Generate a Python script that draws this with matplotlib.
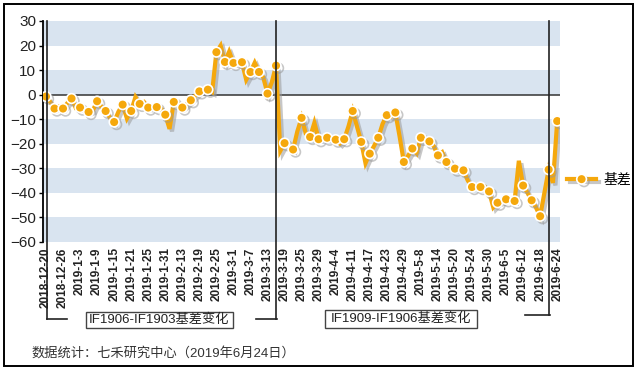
"""IF basis chart: IF1906-IF1903 then IF1909-IF1906 spread (daily)."""

from __future__ import annotations

import matplotlib

matplotlib.use("Agg")
import matplotlib.patheffects as pe
import matplotlib.pyplot as plt
from matplotlib.lines import Line2D
from matplotlib.patches import Rectangle
from matplotlib.transforms import blended_transform_factory

# --- data -------------------------------------------------------------------
TICK_DATES = [
    "2018-12-20", "2018-12-26", "2019-1-3", "2019-1-9", "2019-1-15",
    "2019-1-21", "2019-1-25", "2019-1-31", "2019-2-13", "2019-2-19",
    "2019-2-25", "2019-3-1", "2019-3-7", "2019-3-13", "2019-3-19",
    "2019-3-25", "2019-3-29", "2019-4-4", "2019-4-11", "2019-4-17",
    "2019-4-23", "2019-4-29", "2019-5-8", "2019-5-14", "2019-5-20",
    "2019-5-24", "2019-5-30", "2019-6-5", "2019-6-12", "2019-6-18",
    "2019-6-24",
]

# one value per trading day (121 days)
BASIS = [
    -0.8, -3.0, -5.7, -4.8, -5.7, -3.5, -1.6, -5.5, -5.3, -6.5,
    -7.1, -6.5, -2.7, -5.0, -6.7, -9.5, -11.2, -7.0, -4.1, -9.8,
    -6.7, -1.0, -3.8, -3.0, -5.3, -5.5, -5.1, -5.5, -8.2, -14.0,
    -3.0, -3.5, -5.3, -4.0, -2.3, -0.5, 1.3, 1.2, 2.0, 1.0,
    17.3, 20.0, 13.3, 17.5, 12.9, 12.5, 13.2, 6.0, 9.2, 13.0,
    9.2, 7.0, 0.4, 5.0, 11.8, -23.0, -19.8, -21.0, -22.4, -15.0,
    -9.5, -16.0, -17.3, -11.5, -18.2, -18.0, -17.6, -18.5, -18.4, -20.0,
    -18.2, -13.0, -6.7, -13.0, -19.3, -28.0, -24.1, -21.0, -17.6, -12.0,
    -8.4, -9.0, -7.3, -17.0, -27.5, -25.0, -22.0, -24.0, -17.6, -18.5,
    -19.1, -21.0, -24.8, -23.5, -27.5, -29.5, -30.2, -31.0, -30.9, -35.0,
    -37.7, -37.0, -37.7, -37.5, -39.5, -46.0, -44.1, -43.5, -42.7, -43.0,
    -43.4, -27.0, -37.1, -40.0, -43.1, -46.0, -49.6, -40.0, -30.6, -36.0,
    -10.8,
]

ROLL_DAYS = [54, 118]  # IF1903 / IF1906 expiry
SPREAD_LABELS = ["IF1906-IF1903基差变化", "IF1909-IF1906基差变化"]
SERIES_LABEL = "基差"
SOURCE_NOTE = "数据统计：七禾研究中心（2019年6月24日）"

# --- style ------------------------------------------------------------------
W, H = 639, 369
ORANGE = "#f5a80c"
BAND = "#d9e4f0"
TEXT = "#222222"
FONTS = ["Liberation Sans", "Noto Sans CJK SC"]


def fx(px: float) -> float:
    return px / W


def fy(py: float) -> float:
    return 1 - py / H


fig = plt.figure(figsize=(W / 100, H / 100), dpi=100)
ax = fig.add_axes([fx(43), fy(241.7), fx(560) - fx(43), fy(21) - fy(241.7)])

days = list(range(len(BASIS)))
ax.set_xlim(-0.7, 120.66)
ax.set_ylim(-60, 30)

# alternating bands
for low in range(-60, 30, 20):
    ax.axhspan(low, low + 10, color=BAND, lw=0, zorder=0)
ax.axhline(0, color="#333333", lw=1.1, zorder=1)

shadow = [pe.SimpleLineShadow(offset=(1.8, -1.8), shadow_color="#9a9a9a", alpha=0.55), pe.Normal()]
line, = ax.plot(
    days, BASIS, color=ORANGE, lw=3.0, marker="o", markevery=2, markersize=7,
    markerfacecolor=ORANGE, markeredgecolor="white", markeredgewidth=1.2,
    solid_joinstyle="miter", zorder=3, path_effects=shadow,
)

ax.set_yticks(range(-60, 31, 10))
ax.tick_params(axis="y", labelsize=11, labelcolor=TEXT, length=3, width=1, pad=2)
for lbl in ax.get_yticklabels():
    lbl.set_fontfamily(FONTS)

ax.set_xticks(days[::4], TICK_DATES, rotation=90, fontsize=8.5, fontweight="bold", color=TEXT)
ax.tick_params(axis="x", length=0, pad=4)
for lbl in ax.get_xticklabels():
    lbl.set_fontfamily(FONTS)

for side in ["top", "right", "bottom"]:
    ax.spines[side].set_visible(False)
ax.spines["left"].set_linewidth(1.3)

# brackets marking each spread period
trans = blended_transform_factory(ax.transData, fig.transFigure)
for x0, y_bot in [(0.15, 319), (ROLL_DAYS[0], 319), (ROLL_DAYS[1], 315)]:
    fig.add_artist(Line2D([x0, x0], [fy(21), fy(y_bot)], transform=trans, color="#222222", lw=1.2))
fig.add_artist(Line2D([fx(46.7), fx(67)], [fy(319), fy(319)], color="#222222", lw=1.2))
fig.add_artist(Line2D([fx(256), fx(276.5)], [fy(319), fy(319)], color="#222222", lw=1.2))
fig.add_artist(Line2D([fx(525), fx(549.5)], [fy(315), fy(315)], color="#222222", lw=1.2))

for (x0, x1, y0, y1), label in zip([(86, 233, 311.5, 327.5), (325, 477, 310, 328)], SPREAD_LABELS):
    fig.add_artist(Rectangle((fx(x0), fy(y1)), fx(x1) - fx(x0), fy(y0) - fy(y1),
                             transform=fig.transFigure, facecolor="white", edgecolor="#444444", lw=1.0))
    fig.text(fx((x0 + x1) / 2), fy((y0 + y1) / 2), label, ha="center", va="center",
             fontsize=9.5, color=TEXT, family=FONTS)

fig.text(fx(31), fy(353), SOURCE_NOTE, ha="left", va="center", fontsize=9.5, color="#333333", family=FONTS)

fig.legend(
    handles=[line], labels=[SERIES_LABEL], loc="center left",
    bbox_to_anchor=(fx(567), fy(180)), frameon=False, handlelength=2.1,
    handletextpad=0.5, borderpad=0, borderaxespad=0,
    prop={"family": FONTS, "size": 10},
)

fig.add_artist(Rectangle((fx(4), fy(366)), fx(633) - fx(4), fy(4) - fy(366),
                         transform=fig.transFigure, fill=False, edgecolor="black", lw=1.4))

fig.savefig("out.png", dpi=100)
plt.close(fig)
